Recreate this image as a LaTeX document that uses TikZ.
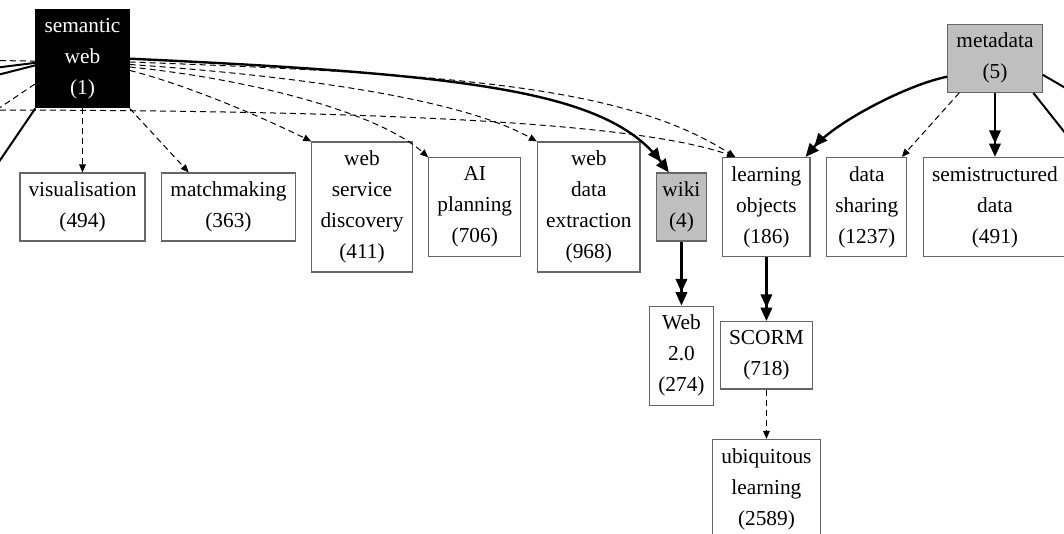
\documentclass[tikz,border=0pt]{standalone}
\usepackage{fontspec}
\setmainfont{Liberation Serif}
\usetikzlibrary{positioning,arrows.meta}

\begin{document}
\begin{tikzpicture}[x=0.75pt,y=-0.75pt,node distance=48pt and 11.6pt,
   box/.style={rectangle,draw=black!60,line width=0.9pt,align=center,
     inner xsep=6.5pt,inner ysep=6.6pt,font=\fontsize{16}{23.25}\selectfont},
   root/.style={box,draw=black,fill=black,text=white},
   topic/.style={box,fill=black!25},
   weak/.style={line width=0.75pt,dash pattern=on 4.5pt off 3pt,
     -{Triangle[length=6pt,width=5pt]}},
   strong/.style={line width=1.8pt,
     -{Triangle[length=10pt,width=8.5pt]Triangle[length=10pt,width=8.5pt]}},
   bare/.style={line width=1.5pt}]
   \useasboundingbox (0,0) rectangle (1064,534);
   \clip (0,0) rectangle (1064,534);

   \node[box] (vis) at (82.5,207) {visualisation\\(494)};
   \node[box] (mm) [right=of vis] {matchmaking\\(363)};
   \node[box] (wsd) [right=of mm] {web\\service\\discovery\\(411)};
   \node[box] (aip) [right=of wsd] {AI\\planning\\(706)};
   \node[box] (wde) [right=of aip] {web\\data\\extraction\\(968)};
   \node[topic,inner xsep=4.3pt] (wiki) [right=of wde] {wiki\\(4)};
   \node[box] (lo) [right=of wiki] {learning\\objects\\(186)};
   \node[box] (ds) [right=of lo] {data\\sharing\\(1237)};
   \node[box] (sd) [right=of ds] {semistructured\\data\\(491)};
   \node[root] (sw) [above=of vis] {semantic\\web\\(1)};
   \node[topic] (md) [above=of sd] {metadata\\(5)};
   \node[box] (w2) [below=of wiki] {Web\\2.0\\(274)};
   \node[box] (scorm) [below=of lo] {SCORM\\(718)};
   \node[box] (ubl) [below=37pt of scorm] {ubiquitous\\learning\\(2589)};

   % ends of edges that leave the picture
   \coordinate (offA) at (-30,71);
   \coordinate (offB) at (-30,82);
   \coordinate (offC) at (-30,60);
   \coordinate (offD) at (-20,121);
   \coordinate (offE) at (-10,175);
   \coordinate (offF) at (-30,110);
   \coordinate (offG) at (1100,108);
   \coordinate (offH) at (1100,177);

   \path (sw) edge[weak] (vis)
         (sw.south east) edge[weak] (mm.139)
         (md.224) edge[weak] (ds.55)
         (md) edge[strong] (sd)
         (wiki) edge[strong] (w2)
         (lo) edge[strong] (scorm)
         (scorm) edge[weak] (ubl);

   \draw[strong] (sw.east) .. controls +(350,16) and +(-60,-80) .. (wiki.110);
   \draw[weak] (sw.-4) .. controls +(330,12) and +(-110,-70) .. (lo.122);
   \draw[weak] (sw.-7) .. controls +(150,10) and +(-80,-45) .. (wde.north west);
   \draw[weak] (sw.-10) .. controls +(120,12) and +(-50,-45) .. (aip.north west);
   \draw[weak] (sw.-14) .. controls +(60,15) and +(-40,-20) .. (wsd.north west);
   \draw[weak] (offF) .. controls +(400,0) and +(-100,-35) .. (lo.122);
   \draw[strong] (md.201) .. controls +(-40,8) and +(30,-35) .. (lo.52);

   \draw[bare] (offA) -- (sw.185);
   \draw[bare] (offB) -- (sw.188);
   \draw[weak,-] (offC) -- (sw.183);
   \draw[weak,-] (offD) -- (sw.208);
   \draw[bare] (sw.south west) -- (offE);
   \draw[bare] (md.-19) -- (offG);
   \draw[bare] (md.-42) -- (offH);
\end{tikzpicture}
\end{document}
